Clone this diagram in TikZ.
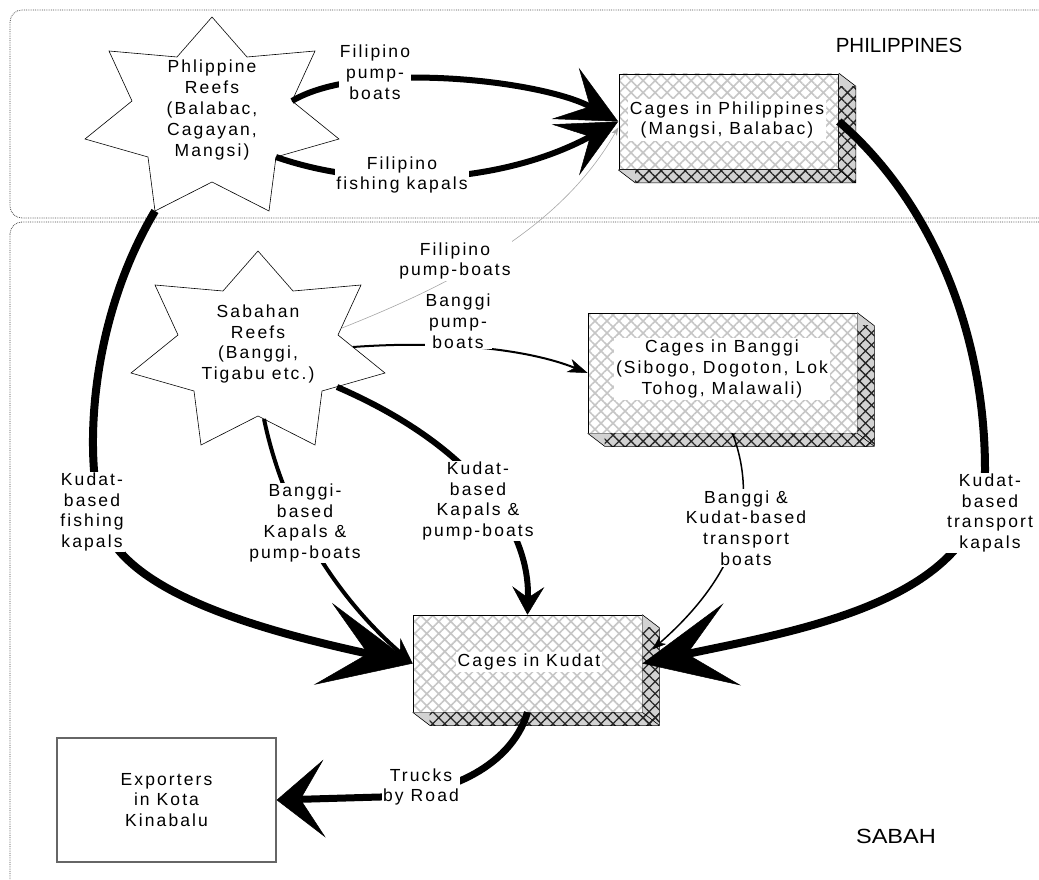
\documentclass[tikz,border=0pt]{standalone}
\usepackage{fontspec}
\setmainfont{Liberation Sans}[LetterSpace=12]
\newfontfamily\regionfont{Liberation Sans}
\usetikzlibrary{arrows.meta,patterns.meta}

\newcommand{\lblfont}{\fontsize{17.5}{20.8}\selectfont}

\tikzset{
  region/.style={draw=black!70,densely dotted,line width=0.8pt,rounded corners=12pt},
  starline/.style={draw,fill=white,line width=0.6pt},
  cageface/.style={draw,line width=0.6pt,pattern={Hatch[angle=45,distance=8.5pt,line width=1.6pt]},pattern color=gray!45},
  cageedge/.style={pattern={Hatch[angle=45,distance=8.5pt,line width=1.3pt]},pattern color=black!85},
  cagetext/.style={fill=white,inner sep=2pt,align=center},
  flowlabel/.style={fill=white,inner sep=1pt,align=center},
  flowhuge/.style={line width=8pt,-{Stealth[length=92pt,width=84pt,inset=46pt,line width=0.5pt]}},
  flowtruck/.style={line width=7pt,-{Stealth[length=48pt,width=78pt,inset=24pt,line width=0.5pt]}},
  flowbig/.style={line width=6pt,-{Stealth[length=60pt,width=58pt,inset=28pt,line width=0.5pt]}},
  flowmid/.style={line width=6pt,-{Stealth[length=28pt,width=32pt,inset=11pt,line width=0.5pt]}},
  flowslim/.style={line width=4pt,-{Stealth[length=26pt,width=22pt,inset=9pt,line width=0.5pt]}},
  flowsmall/.style={line width=2pt,-{Stealth[length=20pt,width=14pt,inset=6pt,line width=0.5pt]}},
  flowtiny/.style={line width=1.5pt,-{Stealth[length=14pt,width=10pt,inset=4pt,line width=0.5pt]}},
  flowfaint/.style={line width=0.6pt,draw=gray!70,-{Stealth[length=8pt,width=6pt,inset=2pt]}},
}

% star outline round a centre coordinate
\newcommand{\reefstar}[1]{%
  \draw[starline,shift={(#1)}] (0,-93) -- (-35,-53) -- (-103,-59) -- (-80,-9) -- (-127,29) -- (-64,47) -- (-57,101)
    -- (0,72) -- (57,101) -- (64,47) -- (127,29) -- (80,-9) -- (103,-59) -- (35,-53) -- cycle;}

% bottom and right faces of a cage box
\newcommand{\cagesides}[1]{%
  \fill[gray!35] (#1.south west) -- ++(17,13) -- ([shift={(17,13)}]#1.south east) -- ([shift={(17,13)}]#1.north east)
    -- (#1.north east) -- (#1.south east) -- cycle;
  \fill[cageedge] ([shift={(17,0)}]#1.south west) rectangle ([shift={(17,13)}]#1.south east);
  \fill[cageedge] ([shift={(0,13)}]#1.north east) rectangle ([shift={(17,13)}]#1.south east);
  \draw[line width=0.6pt] (#1.south west) -- ++(17,13) -- ([shift={(17,13)}]#1.south east) -- ([shift={(17,13)}]#1.north east)
    -- (#1.north east) (#1.south east) -- ++(17,13);}

\begin{document}
\begin{tikzpicture}[x=1pt,y=-1pt,every node/.style={font=\lblfont}]
  \useasboundingbox (0,0) rectangle (1039,880);
  \draw[region] (10,10) rectangle (1060,218);
  \draw[region] (10,222) rectangle (1060,900);

  % reefs
  \coordinate (preefc) at (212,110);
  \reefstar{preefc}
  \node[align=center] at (preefc) (preef) {Phlippine\\Reefs\\(Balabac,\\Cagayan,\\Mangsi)};
  \coordinate (sreefc) at (258,344);
  \reefstar{sreefc}
  \node[align=center] at (sreefc) (sreef) {Sabahan\\Reefs\\(Banggi,\\Tigabu etc.)};
  \coordinate (preef-ne) at ([shift={(80,-9)}]preefc);
  \coordinate (preef-se) at ([shift={(64,47)}]preefc);
  \coordinate (preef-sw) at ([shift={(-57,101)}]preefc);
  \coordinate (sreef-ne) at ([shift={(84,-16)}]sreefc);
  \coordinate (sreef-e) at ([shift={(95,3)}]sreefc);
  \coordinate (sreef-se) at ([shift={(79,43)}]sreefc);
  \coordinate (sreef-s) at ([shift={(6,75)}]sreefc);

  % cages
  \node[cageface,minimum width=219pt,minimum height=95pt] at (728.5,121.5) (philcage) {};
  \cagesides{philcage}
  \node[cagetext] at (727,120) (philtext) {Cages in Philippines\\(Mangsi, Balabac)};
  \node[cageface,minimum width=269pt,minimum height=120pt] at (722.5,373) (banggi) {};
  \cagesides{banggi}
  \node[cagetext] at (722,369) (banggitext) {Cages in Banggi\\(Sibogo, Dogoton, Lok\\Tohog, Malawali)};
  \node[cageface,minimum width=229pt,minimum height=97pt] at (527.5,663.5) (kudat) {};
  \cagesides{kudat}
  \node[cagetext] at (529,662) (kudattext) {Cages in Kudat};

  \node[draw=black!60,line width=1.2pt,minimum width=219pt,minimum height=124pt,align=center] at (166.5,800) (exporters) {Exporters\\in Kota\\Kinabalu};

  % flows
  \draw[flowhuge] (preef-sw) .. controls (90,320) and (85,450) .. (100,510) .. controls (110,590) and (260,630) .. (kudat.west);
  \draw[flowhuge] (philcage.east) .. controls (930,200) and (985,330) .. (985,470) .. controls (985,600) and (800,630) .. (kudat.east);
  \draw[flowtruck] (kudat.south) .. controls (510,770) and (440,797) .. (380,797) -- (exporters.east);
  \draw[flowbig] (preef-ne) .. controls (360,60) and (540,80) .. (philcage.west);
  \draw[flowbig] (preef-se) .. controls (370,190) and (500,185) .. (philcage.west);
  \draw[flowfaint] (sreef-ne) .. controls (450,285) and (560,230) .. ([shift={(0,6)}]philcage.west);
  \draw[flowsmall] (sreef-e) .. controls (450,340) and (530,350) .. (banggi.west);
  \draw[flowmid] (sreef-se) .. controls (460,440) and (530,520) .. (kudat.north);
  \draw[flowslim] (sreef-s) .. controls (285,520) and (340,600) .. (kudat.west);
  \draw[flowtiny] ([shift={(10,0)}]banggi.south) .. controls (765,520) and (720,590) .. ([shift={(10,-14)}]kudat.east);

  \node[flowlabel] at (375,72) (lpump) {Filipino\\pump-\\boats};
  \node[flowlabel] at (402,175) (lfish) {Filipino\\fishing kapals};
  \node[flowlabel] at (455,261) (lpumpsab) {Filipino\\pump-boats};
  \node[flowlabel] at (458,321) (lbpump) {Banggi\\pump-\\boats};
  \node[flowlabel] at (478,501) (lkudatk) {Kudat-\\based\\Kapals \&\\pump-boats};
  \node[flowlabel] at (305,523) (lbanggik) {Banggi-\\based\\Kapals \&\\pump-boats};
  \node[flowlabel] at (92,512) (lkfish) {Kudat-\\based\\fishing\\kapals};
  \node[flowlabel] at (990,513) (ltrans) {Kudat-\\based\\transport\\kapals};
  \node[flowlabel] at (746,528) (ltboats) {Banggi \&\\Kudat-based\\transport\\boats};
  \node[flowlabel] at (421,787) (ltruck) {Trucks\\by Road};

  \node at (899,45) (philtitle) {\regionfont\fontsize{20.5}{24}\selectfont PHILIPPINES};
  \node at (896,836) (sabahtitle) {\regionfont\fontsize{20.5}{24}\selectfont\scalebox{1.15}[1]{SABAH}};
\end{tikzpicture}
\end{document}
